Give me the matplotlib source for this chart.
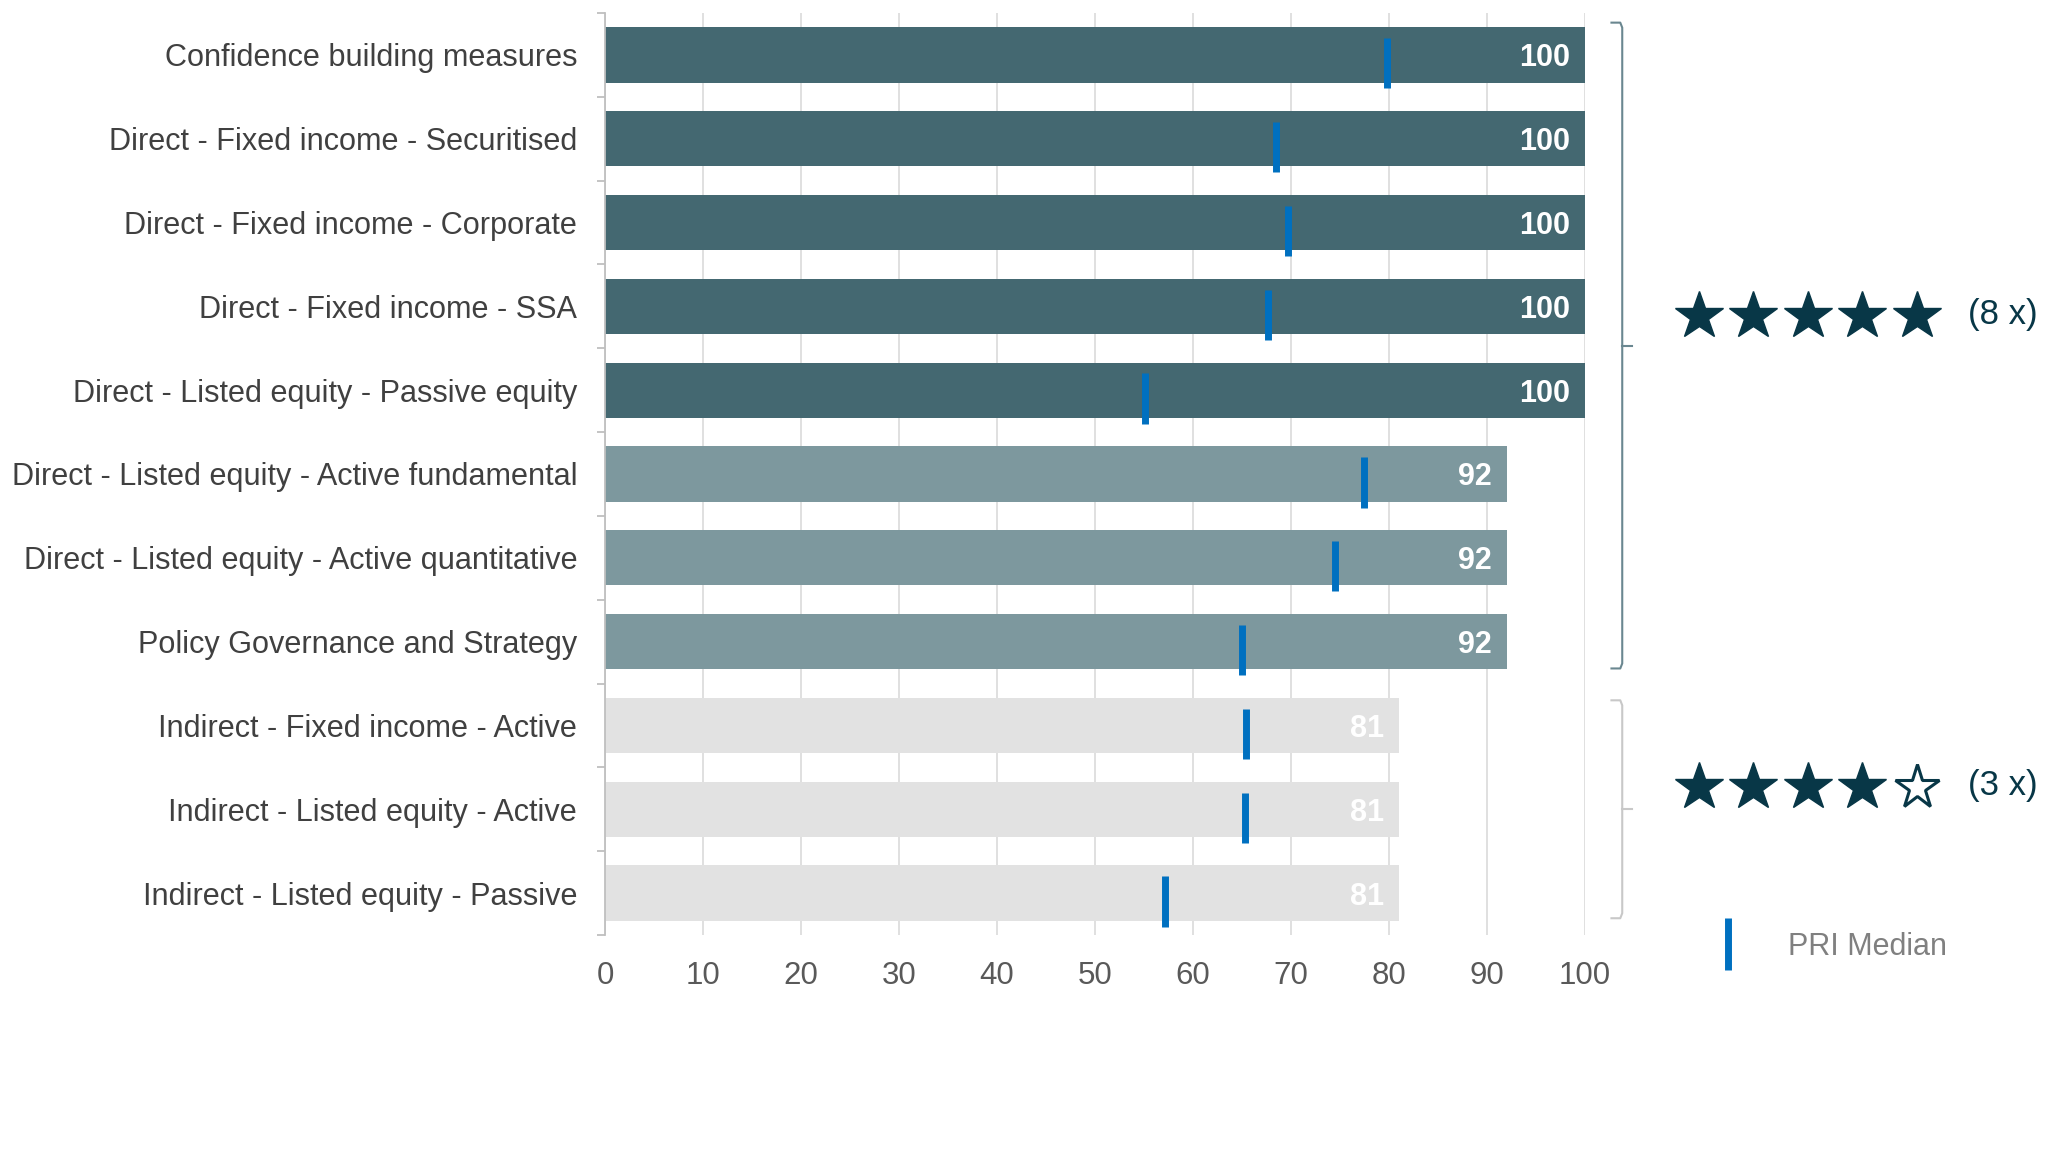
import numpy as np
import matplotlib
matplotlib.use("Agg")
import matplotlib.pyplot as plt

plt.rcParams['font.family'] = ['Liberation Sans', 'DejaVu Sans']

categories = [
    "Confidence building measures",
    "Direct - Fixed income - Securitised",
    "Direct - Fixed income - Corporate",
    "Direct - Fixed income - SSA",
    "Direct - Listed equity - Passive equity",
    "Direct - Listed equity - Active fundamental",
    "Direct - Listed equity - Active quantitative",
    "Policy Governance and Strategy",
    "Indirect - Fixed income - Active",
    "Indirect - Listed equity - Active",
    "Indirect - Listed equity - Passive",
]
scores = [100, 100, 100, 100, 100, 92, 92, 92, 81, 81, 81]
medians = [79.8, 68.5, 69.7, 67.7, 55.1, 77.4, 74.5, 65.0, 65.4, 65.3, 57.1]
xticks = [0, 10, 20, 30, 40, 50, 60, 70, 80, 90, 100]

# star groups: filled stars, number of modules
group_stars = [5, 4]
group_counts = [8, 3]

# layout of the right-hand brackets (in row units) and star rows
bracket_spans = [(-0.385, 7.32), (7.70, 10.30)]
star_rows = [3.12, 8.74]

bar_colors = {100: "#446871", 92: "#7D989E", 81: "#E2E2E2"}
bracket_colors = ["#6A8790", "#C8C8C8"]
median_color = "#0070C0"
star_color = "#083747"

fig = plt.figure(figsize=(20.48, 11.52), dpi=100)
W, H = 2048, 1152
ax = fig.add_axes([605 / W, 1 - 935 / H, (1585 - 605) / W, (935 - 13) / H])

y = np.arange(len(categories))
ax.barh(y, scores, height=0.66, color=[bar_colors[s] for s in scores], zorder=2)
ax.vlines(medians, y - 0.2, y + 0.4, color=median_color, lw=5, zorder=3)

for i, s in enumerate(scores):
    ax.text(s - 1.5, i, str(s), ha='right', va='center_baseline', color='white',
            fontsize=22, fontweight='bold', zorder=4)

ax.set_xlim(0, 100)
ax.set_ylim(10.5, -0.5)
ax.set_xticks(xticks)
ax.set_yticks(y)
ax.set_yticklabels(categories)
ax.set_yticks(np.arange(-0.5, len(categories), 1), minor=True)
ax.tick_params(axis='y', which='major', length=0, pad=20, labelsize=22.1, labelcolor="#404040")
ax.tick_params(axis='y', which='minor', length=6, width=1.3, color="#BFBFBF")
ax.tick_params(axis='x', length=0, pad=19, labelsize=22.5, labelcolor="#595959")

ax.set_axisbelow(True)
ax.xaxis.grid(True, color="#DDDDDD", lw=1.3)
for side in ['top', 'right', 'bottom']:
    ax.spines[side].set_visible(False)
ax.spines['left'].set_color("#BFBFBF")
ax.spines['left'].set_linewidth(1.3)

# brackets, stars and counts
bx = 103.8
for g, (top, bot) in enumerate(bracket_spans):
    mid = (top + bot) / 2
    c = bracket_colors[g]
    ax.plot([bx - 1.1, bx - 0.2, bx, bx, bx - 0.2, bx - 1.1],
            [top, top, top + 0.06, bot - 0.06, bot, bot],
            color=c, lw=1.5, clip_on=False)
    ax.plot([bx, bx + 1.0], [mid, mid], color=c, lw=1.5, clip_on=False)

    sy = star_rows[g]
    for k in range(5):
        sx = 111.6 + k * 5.56
        if k < group_stars[g]:
            ax.plot(sx, sy, marker='*', ms=36, color=star_color, mec=star_color,
                    clip_on=False)
        else:
            ax.plot(sx, sy, marker='*', ms=33, mfc='white', mec=star_color, mew=2.2,
                    clip_on=False)
    ax.text(139.1, sy - 0.02, "(%d x)" % group_counts[g], ha='left', va='center',
            fontsize=25, color=star_color, clip_on=False)

# legend
ax.plot([114.6, 114.6], [10.3, 10.92], color=median_color, lw=5, clip_on=False,
        solid_capstyle='butt')
ax.text(120.7, 10.64, "PRI Median", ha='left', va='center', fontsize=22, color="#808080")

fig.savefig("out.png", dpi=100)
